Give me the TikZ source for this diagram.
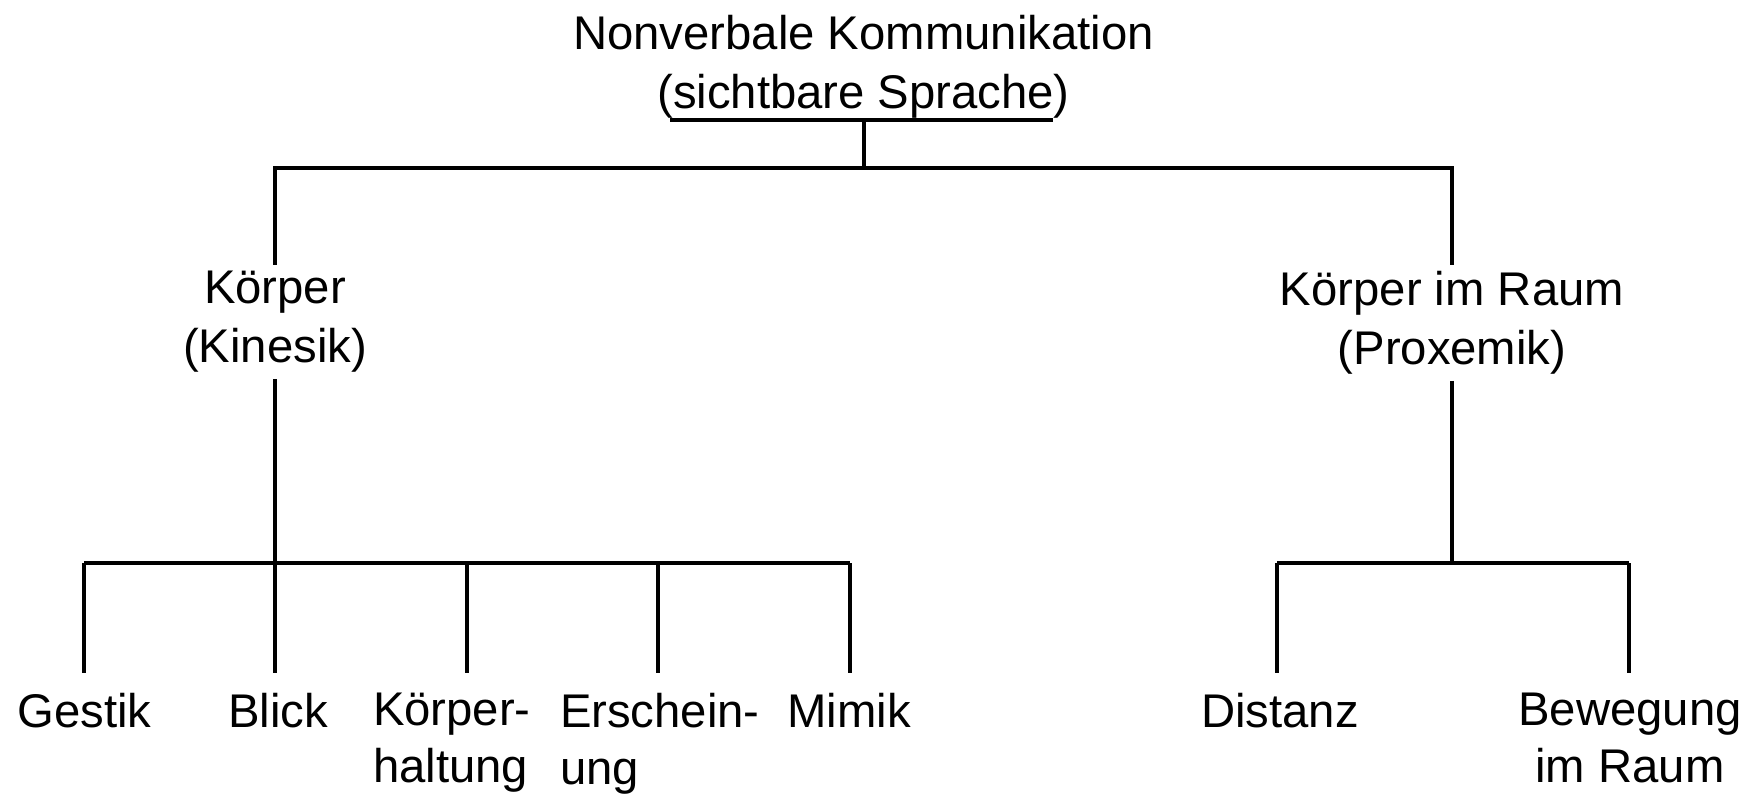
\documentclass[tikz,border=0pt]{standalone}
\usepackage{fontspec}
\setmainfont{Liberation Sans}
\usepackage{tikz}
\tikzset{
  tree/.style={black, line width=2pt},
  topic/.style={font=\fontsize{26.9pt}{33.8pt}\selectfont, align=center, inner sep=0pt, outer xsep=0pt, outer ysep=0.13cm, anchor=north},
  leaf/.style={topic, font=\fontsize{26.9pt}{32.6pt}\selectfont, outer ysep=0.40cm}
}

\begin{document}
\begin{tikzpicture}
    \useasboundingbox (0,0) rectangle (35.1,-15.96);
    \fill[white] (0,0) rectangle (35.1,-15.96);

    % Wurzel
    \node[topic] (root) at (17.27,-0.17) {Nonverbale Kommunikation\\(sichtbare Sprache)};
    \coordinate (ul) at (13.40,-2.40);
    \coordinate (ur) at (21.06,-2.40);
    \coordinate (hub) at (17.28,-3.36);
    \draw[tree] (ul) -- (ur);
    \draw[tree] (hub |- ul) -- (hub);

    % Kinesik und Proxemik
    \node[topic] (kin) at (5.50,-5.29) {Körper\\(Kinesik)};
    \node[topic] (prox) at (29.04,-5.29) {Körper im Raum\\(Proxemik)};
    \draw[tree] (kin.north) |- (hub) -| (prox.north);

    % Kinesik: Blätter
    \coordinate (kbar) at (5.50,-11.26);
    \draw[tree] (kin.south) -- (kbar);
    \node[leaf] (ges) at (1.69,-13.46) {Gestik};
    \node[leaf] (bli) at (5.56,-13.46) {Blick};
    \node[leaf, anchor=north west, align=left] (hal) at (7.46,-13.46) {Körper-\\haltung};
    \node[leaf, anchor=north west, align=left] (ers) at (11.20,-13.46) {Erschein-\\ung};
    \node[leaf] (mim) at (16.98,-13.46) {Mimik};
    \coordinate (j1) at (1.68,-11.26);
    \coordinate (j2) at (5.50,-11.26);
    \coordinate (j3) at (9.34,-11.26);
    \coordinate (j4) at (13.16,-11.26);
    \coordinate (j5) at (17.00,-11.26);
    \draw[tree] (j1) -- (j5);
    \foreach \j/\n in {j1/ges, j2/bli, j3/hal, j4/ers, j5/mim}
        \draw[tree] (\j) -- (\j |- \n.north);

    % Proxemik: Blätter
    \coordinate (pbar) at (29.04,-11.26);
    \draw[tree] (prox.south) -- (pbar);
    \node[leaf] (dis) at (25.60,-13.46) {Distanz};
    \node[leaf] (bew) at (32.60,-13.46) {Bewegung\\im Raum};
    \coordinate (p1) at (25.54,-11.26);
    \coordinate (p2) at (32.58,-11.26);
    \draw[tree] (p1) -- (p2);
    \draw[tree] (p1) -- (p1 |- dis.north);
    \draw[tree] (p2) -- (p2 |- bew.north);
\end{tikzpicture}
\end{document}
